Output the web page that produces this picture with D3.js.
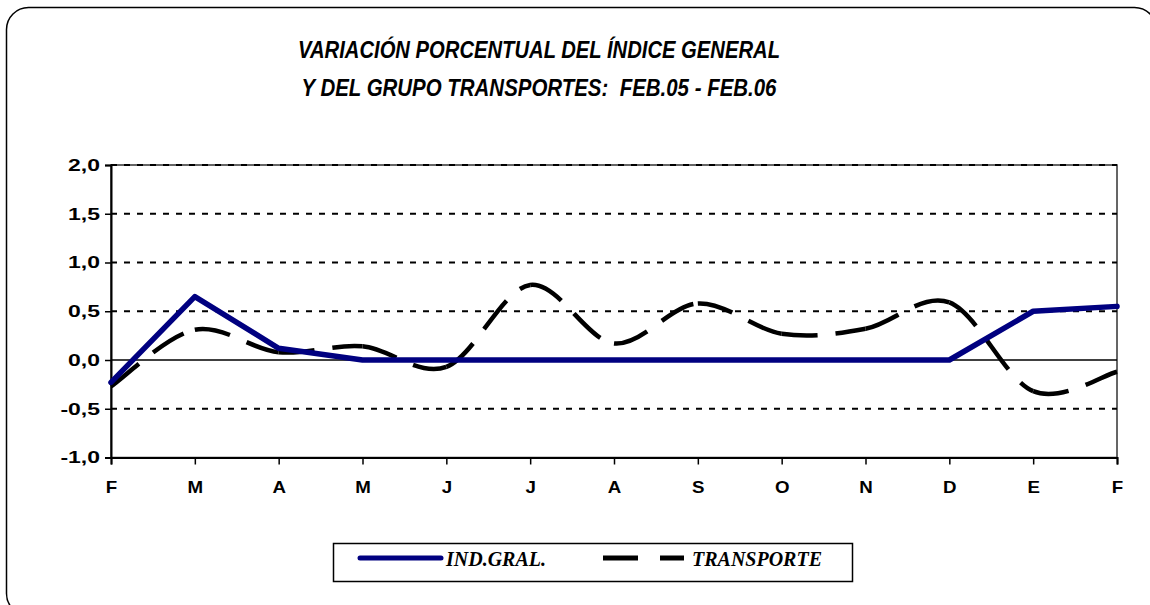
<!DOCTYPE html>
<html>
<head>
<meta charset="utf-8">
<script src="https://cdn.jsdelivr.net/npm/d3@7"></script>
<style>
  body { margin: 0; background: #fff; }
  svg { display: block; }
</style>
</head>
<body>
<div id="chart"></div>
<script>
// DATA
const months = ['F', 'M', 'A', 'M', 'J', 'J', 'A', 'S', 'O', 'N', 'D', 'E', 'F'];
const indGral = [-0.23, 0.65, 0.12, 0.0, 0.0, 0.0, 0.0, 0.0, 0.0, 0.0, 0.0, 0.5, 0.55];
const transporte = [-0.27, 0.31, 0.08, 0.14, -0.07, 0.77, 0.17, 0.58, 0.27, 0.32, 0.59, -0.32, -0.12];
const yTicks = [-1, -0.5, 0, 0.5, 1, 1.5, 2];
const titleLines = ['VARIACIÓN PORCENTUAL DEL ÍNDICE GENERAL', 'Y DEL GRUPO TRANSPORTES:  FEB.05 - FEB.06'];
const legendLabels = ['IND.GRAL.', 'TRANSPORTE'];

// SETTINGS
const width = 1150;
const height = 605;
const plot = { left: 111, right: 1117, top: 165, bottom: 457.5 };
const blue = '#000080';

const svg = d3.select('#chart')
  .append('svg')
  .attr('width', width)
  .attr('height', height);

// outer rounded frame
svg.append('rect')
  .attr('x', 6.5).attr('y', 7.5)
  .attr('width', 1150).attr('height', 608)
  .attr('rx', 22).attr('ry', 22)
  .attr('fill', 'none')
  .attr('stroke', '#000')
  .attr('stroke-width', 1.5);

// TITLE
svg.selectAll('.title')
  .data(titleLines)
  .enter().append('text')
  .attr('class', 'title')
  .attr('x', 539)
  .attr('y', (d, i) => i === 0 ? 58 : 96)
  .attr('text-anchor', 'middle')
  .attr('textLength', (d, i) => i === 0 ? 482 : 475)
  .attr('lengthAdjust', 'spacingAndGlyphs')
  .style('white-space', 'pre')
  .style('font-family', '"Liberation Sans", Arial, sans-serif')
  .style('font-weight', 'bold')
  .style('font-style', 'italic')
  .style('font-size', '23px')
  .text(d => d);

// SCALES
const x = d3.scalePoint().domain(d3.range(months.length)).range([plot.left, plot.right]);
const y = d3.scaleLinear().domain([-1, 2]).range([plot.bottom, plot.top]);

// plot border (top / right)
svg.append('rect')
  .attr('x', plot.left).attr('y', plot.top)
  .attr('width', plot.right - plot.left).attr('height', plot.bottom - plot.top)
  .attr('fill', 'none')
  .attr('stroke', '#333')
  .attr('stroke-width', 1.5);

// GRIDLINES
svg.selectAll('.grid')
  .data(yTicks.filter(d => d !== 0 && d !== -1))
  .enter().append('line')
  .attr('x1', plot.left).attr('x2', plot.right)
  .attr('y1', d => y(d)).attr('y2', d => y(d))
  .attr('stroke', '#000')
  .attr('stroke-width', 2)
  .attr('stroke-dasharray', '6,7');

// zero line
svg.append('line')
  .attr('x1', plot.left).attr('x2', plot.right)
  .attr('y1', y(0)).attr('y2', y(0))
  .attr('stroke', '#000')
  .attr('stroke-width', 1.5);

// AXES
const yAxis = d3.axisLeft(y)
  .tickValues(yTicks)
  .tickSize(6)
  .tickPadding(5)
  .tickFormat(d => d3.format('.1f')(d).replace('.', ',').replace('−', '-'));

const xAxis = d3.axisBottom(x)
  .tickSize(7)
  .tickPadding(16)
  .tickFormat(i => months[i]);

const yAxisGroup = svg.append('g')
  .attr('transform', `translate(${plot.left},0)`)
  .call(yAxis);

const xAxisGroup = svg.append('g')
  .attr('transform', `translate(0,${plot.bottom})`)
  .call(xAxis);

// labels in the picture are drawn wider than their height
[[xAxisGroup, 1.1], [yAxisGroup, 1.35]].forEach(([g, stretch]) => {
  g.select('.domain').attr('stroke', '#000').attr('stroke-width', 2);
  g.selectAll('.tick line').attr('stroke', '#000').attr('stroke-width', 1.5);
  g.selectAll('text')
    .attr('fill', '#000')
    .style('font-family', '"Liberation Sans", Arial, sans-serif')
    .style('font-weight', 'bold')
    .style('font-size', '17px')
    .each(function() {
      const len = this.getComputedTextLength();
      d3.select(this)
        .attr('textLength', len * stretch)
        .attr('lengthAdjust', 'spacingAndGlyphs');
    });
});

// TRANSPORTE: smoothed, dash pattern restarts at every point (Excel style)
const pts = transporte.map((v, i) => [x(i), y(v)]);
const segPath = i => {
  const p0 = pts[Math.max(i - 1, 0)];
  const p1 = pts[i];
  const p2 = pts[i + 1];
  const p3 = pts[Math.min(i + 2, pts.length - 1)];
  const c1 = [p1[0] + (p2[0] - p0[0]) / 6, p1[1] + (p2[1] - p0[1]) / 6];
  const c2 = [p2[0] - (p3[0] - p1[0]) / 6, p2[1] - (p3[1] - p1[1]) / 6];
  const p = d3.path();
  p.moveTo(p1[0], p1[1]);
  p.bezierCurveTo(c1[0], c1[1], c2[0], c2[1], p2[0], p2[1]);
  return p.toString();
};

svg.append('g')
  .selectAll('path')
  .data(d3.range(pts.length - 1))
  .enter().append('path')
  .attr('d', segPath)
  .attr('fill', 'none')
  .attr('stroke', '#000')
  .attr('stroke-width', 4.5)
  .attr('stroke-dasharray', '36,18');

// IND.GRAL. line
const line = d3.line()
  .x((d, i) => x(i))
  .y(d => y(d));

svg.append('path')
  .datum(indGral)
  .attr('d', line)
  .attr('fill', 'none')
  .attr('stroke', blue)
  .attr('stroke-width', 5.5)
  .attr('stroke-linejoin', 'round')
  .attr('stroke-linecap', 'round');

// LEGEND
const legend = svg.append('g');
legend.append('rect')
  .attr('x', 333.5).attr('y', 543.5)
  .attr('width', 519).attr('height', 38)
  .attr('fill', '#fff')
  .attr('stroke', '#000')
  .attr('stroke-width', 1.5);

legend.append('line')
  .attr('x1', 360).attr('x2', 441)
  .attr('y1', 558).attr('y2', 558)
  .attr('stroke', blue)
  .attr('stroke-width', 5)
  .attr('stroke-linecap', 'round');

legend.append('line')
  .attr('x1', 603).attr('x2', 684)
  .attr('y1', 558).attr('y2', 558)
  .attr('stroke', '#000')
  .attr('stroke-width', 5)
  .attr('stroke-dasharray', '35,22');

legend.selectAll('text')
  .data(legendLabels)
  .enter().append('text')
  .attr('x', (d, i) => i === 0 ? 446 : 692)
  .attr('y', 566)
  .style('font-family', '"Liberation Serif", "Times New Roman", serif')
  .style('font-weight', 'bold')
  .style('font-style', 'italic')
  .style('font-size', '20px')
  .text(d => d);
</script>
</body>
</html>
